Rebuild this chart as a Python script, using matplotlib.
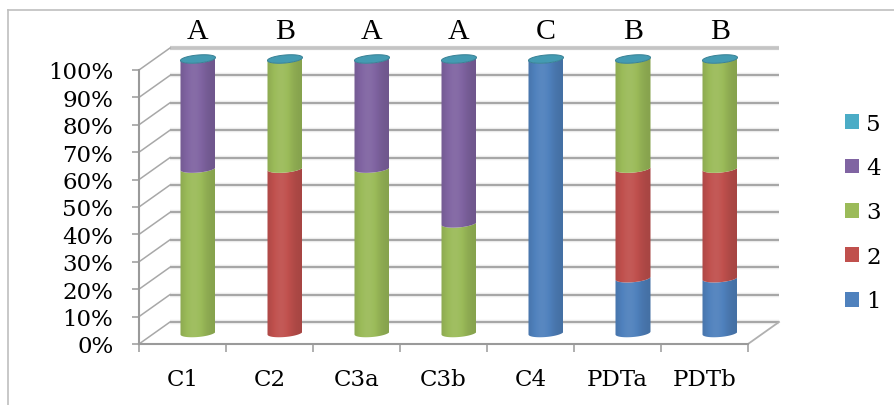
import numpy as np
import matplotlib
matplotlib.use("Agg")
import matplotlib.pyplot as plt
from matplotlib.path import Path
from matplotlib.patches import PathPatch, Patch
from matplotlib.colors import to_rgb
from matplotlib.lines import Line2D

# ---- data -------------------------------------------------------------
categories = ["C1", "C2", "C3a", "C3b", "C4", "PDTa", "PDTb"]
groups = ["A", "B", "A", "A", "C", "B", "B"]
series_names = ["1", "2", "3", "4", "5"]
s1 = [0, 0, 0, 0, 100, 20, 20]
s2 = [0, 60, 0, 0, 0, 40, 40]
s3 = [60, 40, 60, 40, 0, 40, 40]
s4 = [40, 0, 40, 60, 0, 0, 0]
s5 = [0, 0, 0, 0, 0, 0, 0]
y_ticks = list(range(0, 101, 10))
y_tick_labels = [f"{v}%" for v in y_ticks]
colors = ["#4F81BD", "#C0504D", "#9BBB59", "#8064A2", "#4BACC6"]

series = [s1, s2, s3, s4, s5]

# ---- layout -----------------------------------------------------------
W, H = 895, 406
PX_CAT = 87.0          # pixels per category
PX_PCT = 2.74          # pixels per percent
X0_PX, Y0_PX = 139, 345  # pixel position of (first category edge, 0 %)
DX = 31 / PX_CAT       # depth offset of the back wall (category units)
DY = 22 / PX_PCT       # depth offset of the back wall (percent units)
RAD = 17.5 / PX_CAT    # cylinder radius
EB = 4.0 / PX_PCT      # half height of the cylinder ellipses
SKEW = 2.7             # tilt of the ellipses
GRID = "#9a9a9a"
FONT = "DejaVu Serif"

fig = plt.figure(figsize=(W / 100, H / 100), dpi=100)
ax = fig.add_axes([0, 0, 1, 1])
ax.set_facecolor("none")

n = len(categories)
x_left = -0.5
x_right = n - 0.5

# walls: side-wall diagonals and back-wall gridlines
for v in y_ticks:
    yb = v + DY
    lw_main = 1.2
    col = GRID
    if v == 100:
        col, lw_main = "#c4c4c4", 2.6
    ax.plot([x_left + DX, x_right + DX], [yb, yb], color="#ebebeb", lw=3.2,
            solid_capstyle="butt", zorder=1)
    ax.plot([x_left + DX, x_right + DX], [yb, yb], color=col, lw=lw_main,
            solid_capstyle="butt", zorder=2)
    ax.plot([x_left, x_left + DX], [v, yb], color="#a8a8a8", lw=1.1, zorder=2)

# floor right edge
ax.plot([x_right, x_right + DX], [0, DY], color="#b0b0b0", lw=1.3, zorder=2)


def shade_row(color, npts=80):
    c = np.array(to_rgb(color))
    t = np.linspace(0, 1, npts)
    f = 0.86 + 0.20 * np.exp(-((t - 0.40) / 0.34) ** 2)
    rows = []
    for fi in f:
        if fi <= 1:
            rows.append(c * fi)
        else:
            rows.append(c + (1 - c) * (fi - 1) * 0.9)
    return np.clip(np.array(rows)[None, :, :], 0, 1)


def arc(cx, yc, t):
    xs = cx + RAD * np.cos(t)
    ys = yc + EB * np.sin(t) + SKEW * RAD * np.cos(t)
    return xs, ys


def segment(cx, y0, y1, color):
    t = np.linspace(np.pi, 2 * np.pi, 50)
    bx, by = arc(cx, y0, t)
    tx, ty = arc(cx, y1, t)
    verts = np.vstack([np.column_stack([bx, by]),
                       np.column_stack([tx[::-1], ty[::-1]]),
                       [[bx[0], by[0]]]])
    codes = [Path.MOVETO] + [Path.LINETO] * (len(verts) - 2) + [Path.CLOSEPOLY]
    patch = PathPatch(Path(verts, codes), transform=ax.transData,
                      facecolor="none", edgecolor="none")
    im = ax.imshow(shade_row(color),
                   extent=[cx - RAD, cx + RAD, y0 - EB - 2, y1 + EB + 2],
                   aspect="auto", interpolation="bilinear", zorder=5)
    im.set_clip_path(patch)


def cap(cx, yc, color):
    t = np.linspace(0, 2 * np.pi, 80)
    xs, ys = arc(cx, yc, t)
    c = np.array(to_rgb(color))
    ax.fill(xs, ys, facecolor=c * 0.9, edgecolor=c * 0.75, lw=0.7, zorder=6)


# stacked cylinders
for i in range(n):
    cx = i + DX / 2
    base = DY / 2
    for k, vals in enumerate(series):
        h = vals[i]
        if h > 0:
            segment(cx, base, base + h, colors[k])
            base += h
    top_color = colors[len(series) - 1]
    cap(cx, base, top_color)
    ax.text(cx, (Y0_PX - 32) / PX_PCT, groups[i], ha="center", va="center",
            fontsize=21.5, family="Liberation Serif", color="black")

# axes limits map data units onto the figure pixels
ax.set_xlim(x_left - X0_PX / PX_CAT, x_left + (W - X0_PX) / PX_CAT)
ax.set_ylim(-(H - Y0_PX) / PX_PCT, Y0_PX / PX_PCT)

for s in ["top", "right"]:
    ax.spines[s].set_visible(False)
ax.spines["left"].set_position(("data", x_left))
ax.spines["left"].set_bounds(0, 100)
ax.spines["bottom"].set_position(("data", 0))
ax.spines["bottom"].set_bounds(x_left, x_right)
for s in ["left", "bottom"]:
    ax.spines[s].set_color("#9a9a9a")
    ax.spines[s].set_linewidth(1.5)
    ax.spines[s].set_zorder(3)

ax.set_yticks(y_ticks)
ax.set_yticklabels(y_tick_labels, fontsize=16.5, family=FONT)
ax.tick_params(axis="y", direction="out", length=5, width=1.1,
               color="#9a9a9a", pad=13.5)

ax.set_xticks(np.arange(n + 1) - 0.5)
ax.set_xticklabels([])
ax.set_xticks(np.arange(n), minor=True)
ax.set_xticklabels(categories, minor=True, fontsize=16.5, family=FONT)
ax.tick_params(axis="x", which="major", direction="out", length=5.8,
               width=1.1, color="#9a9a9a")
ax.tick_params(axis="x", which="minor", length=0, pad=17)

# legend, top entry first
handles = [Patch(facecolor=colors[k], edgecolor="none")
           for k in range(len(series) - 1, -1, -1)]
labels = [series_names[k] for k in range(len(series) - 1, -1, -1)]
fig.legend(handles, labels, loc="center left",
           bbox_to_anchor=(845 / W, 1 - 213.5 / H),
           frameon=False, prop={"family": FONT, "size": 16.5},
           handlelength=0.62, handleheight=0.62, handletextpad=0.3,
           labelspacing=0.98, borderpad=0, borderaxespad=0)

# chart area border
fig.add_artist(Line2D([8 / W, 1.0], [1 - 11 / H, 1 - 11 / H],
                      transform=fig.transFigure, color="#bfbfbf", lw=1.2))
fig.add_artist(Line2D([8 / W, 8 / W], [0, 1 - 11 / H],
                      transform=fig.transFigure, color="#bfbfbf", lw=1.2))

fig.savefig("out.png", dpi=100, facecolor="white")
